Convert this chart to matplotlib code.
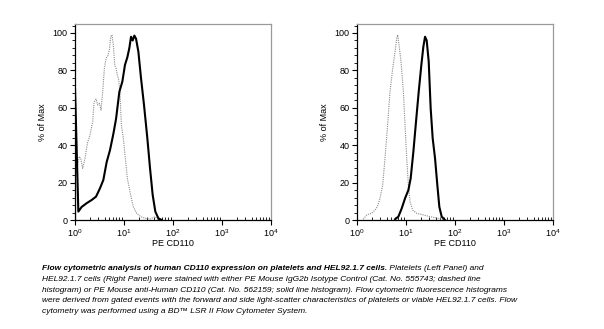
import numpy as np
import matplotlib.pyplot as plt
from matplotlib.ticker import LogLocator, MultipleLocator, NullFormatter

plt.rcParams['font.family'] = ['Liberation Sans', 'DejaVu Sans']
plt.rcParams['mathtext.default'] = 'regular'

# histogram traces, x given as log10(PE CD110), y as % of Max
left_iso_log = [0.0, 0.0, 0.088, 0.116, 0.156, 0.204, 0.252, 0.306, 0.361, 0.388, 0.429, 0.463,
                0.497, 0.531, 0.565, 0.599, 0.633, 0.673, 0.701, 0.728, 0.755, 0.782,
                0.810, 0.837, 0.864, 0.891, 0.918, 0.946, 0.986, 1.027, 1.068, 1.122,
                1.190, 1.259, 1.340, 1.429, 1.531, 1.633, 1.701]
left_iso_pct = [0, 22, 34, 33, 27.6, 33, 41, 45.5, 52.6, 63, 64.7, 61.5,
                62.4, 58.8, 68.6, 81, 86.5, 88, 91, 98, 99, 93.6,
                83, 81, 77.5, 75, 67.7, 50.8, 43.7, 33, 22.3, 15,
                7, 3.6, 1.8, 0.9, 0.5, 1.8, 0]

left_cd110_log = [0.0, 0.0, 0.068, 0.136, 0.238, 0.340, 0.429, 0.510, 0.578, 0.646, 0.714,
                  0.782, 0.837, 0.905, 0.966, 1.020, 1.068, 1.109, 1.143, 1.177, 1.211,
                  1.245, 1.293, 1.347, 1.408, 1.476, 1.531, 1.585, 1.639, 1.701, 1.769]
left_cd110_pct = [0, 70.5, 4.5, 7, 9, 10.7, 12.5, 17, 21.4, 31, 37.4,
                  46, 54, 68.6, 74, 83, 87, 92, 98, 96, 98.6,
                  97, 90, 75.8, 61.5, 43.7, 27.6, 13.4, 4.5, 0.9, 0]

right_iso_log = [0.129, 0.197, 0.299, 0.367, 0.415, 0.469, 0.524, 0.571, 0.619, 0.673,
                 0.728, 0.776, 0.810, 0.830, 0.857, 0.898, 0.946, 0.980, 1.014, 1.048,
                 1.082, 1.136, 1.218, 1.354, 1.490, 1.660, 1.762]
right_iso_pct = [0.4, 2.7, 3.6, 5.3, 7.1, 11.6, 18.7, 33, 49, 68.6,
                 81, 90, 97, 99, 93.6, 84.7, 68.6, 50.8, 33, 18.7,
                 9.8, 5.3, 3.6, 2.7, 1.8, 0.9, 0]

right_cd110_log = [0.776, 0.844, 0.912, 0.980, 1.048, 1.095, 1.150, 1.204, 1.259, 1.313,
                   1.354, 1.388, 1.422, 1.463, 1.503, 1.544, 1.592, 1.639, 1.680, 1.728, 1.796]
right_cd110_pct = [0.4, 1.8, 6.2, 11.6, 16, 22.3, 36.5, 52.6, 68.6, 83,
                   92.7, 98, 96, 84.7, 59.7, 43.7, 33, 18.7, 7, 1.8, 0]

y_ticks = [0, 20, 40, 60, 80, 100]

caption_bold = "Flow cytometric analysis of human CD110 expression on platelets and HEL92.1.7 cells."
caption_lines = [
    " Platelets (Left Panel) and",
    "HEL92.1.7 cells (Right Panel) were stained with either PE Mouse IgG2b Isotype Control (Cat. No. 555743; dashed line",
    "histogram) or PE Mouse anti-Human CD110 (Cat. No. 562159; solid line histogram). Flow cytometric fluorescence histograms",
    "were derived from gated events with the forward and side light-scatter characteristics of platelets or viable HEL92.1.7 cells. Flow",
    "cytometry was performed using a BD\u2122 LSR II Flow Cytometer System.",
]

fig = plt.figure(figsize=(6.04, 3.29), dpi=100)
ax_l = fig.add_axes([0.1242, 0.3313, 0.3245, 0.5957])
ax_r = fig.add_axes([0.5911, 0.3313, 0.3245, 0.5957])

panels = [
    (ax_l, left_iso_log, left_iso_pct, left_cd110_log, left_cd110_pct),
    (ax_r, right_iso_log, right_iso_pct, right_cd110_log, right_cd110_pct),
]

for ax, iso_x, iso_y, cd_x, cd_y in panels:
    ax.plot(np.power(10.0, iso_x), iso_y, color='#8a8a8a', lw=0.8, ls=(0, (1, 1)))
    ax.plot(np.power(10.0, cd_x), cd_y, color='black', lw=1.5)

    ax.set_xscale('log')
    ax.set_xlim(1, 1e4)
    ax.set_ylim(0, 104.8)
    ax.set_yticks(y_ticks)
    ax.yaxis.set_minor_locator(MultipleLocator(4))
    ax.xaxis.set_major_locator(LogLocator(base=10, numticks=10))
    ax.xaxis.set_minor_locator(LogLocator(base=10, subs=np.arange(2, 10), numticks=10))
    ax.xaxis.set_minor_formatter(NullFormatter())

    ax.tick_params(axis='both', which='major', labelsize=6.5, length=3.5, width=0.8, pad=2)
    ax.tick_params(axis='y', which='minor', length=2, width=0.6, direction='out')
    ax.tick_params(axis='x', which='minor', length=2.5, width=0.6, direction='in')
    ax.tick_params(axis='x', which='major', length=3.5, direction='out', pad=1.5)

    for side in ['top', 'right']:
        ax.spines[side].set_color('#9a9a9a')
        ax.spines[side].set_linewidth(0.9)
    for side in ['left', 'bottom']:
        ax.spines[side].set_color('black')
        ax.spines[side].set_linewidth(0.9)

    ax.set_xlabel('PE CD110', fontsize=6.5, labelpad=0.5)
    ax.set_ylabel('% of Max', fontsize=6.5, labelpad=4)

# caption, first sentence bold
cap_size = 6.0
x0 = 42 / 604
y0 = 1 - 269 / 329
line_h = 10.6 / 329
t = fig.text(x0, y0, caption_bold, fontsize=cap_size, style='italic', weight='bold',
             va='center', ha='left')
fig.canvas.draw()
bb = t.get_window_extent(renderer=fig.canvas.get_renderer())
fig.text(bb.x1 / fig.bbox.width, y0, caption_lines[0], fontsize=cap_size, style='italic',
         va='center', ha='left')
for i, line in enumerate(caption_lines[1:], start=1):
    fig.text(x0, y0 - i * line_h, line, fontsize=cap_size, style='italic',
             va='center', ha='left')

fig.savefig('out.png', dpi=100)
